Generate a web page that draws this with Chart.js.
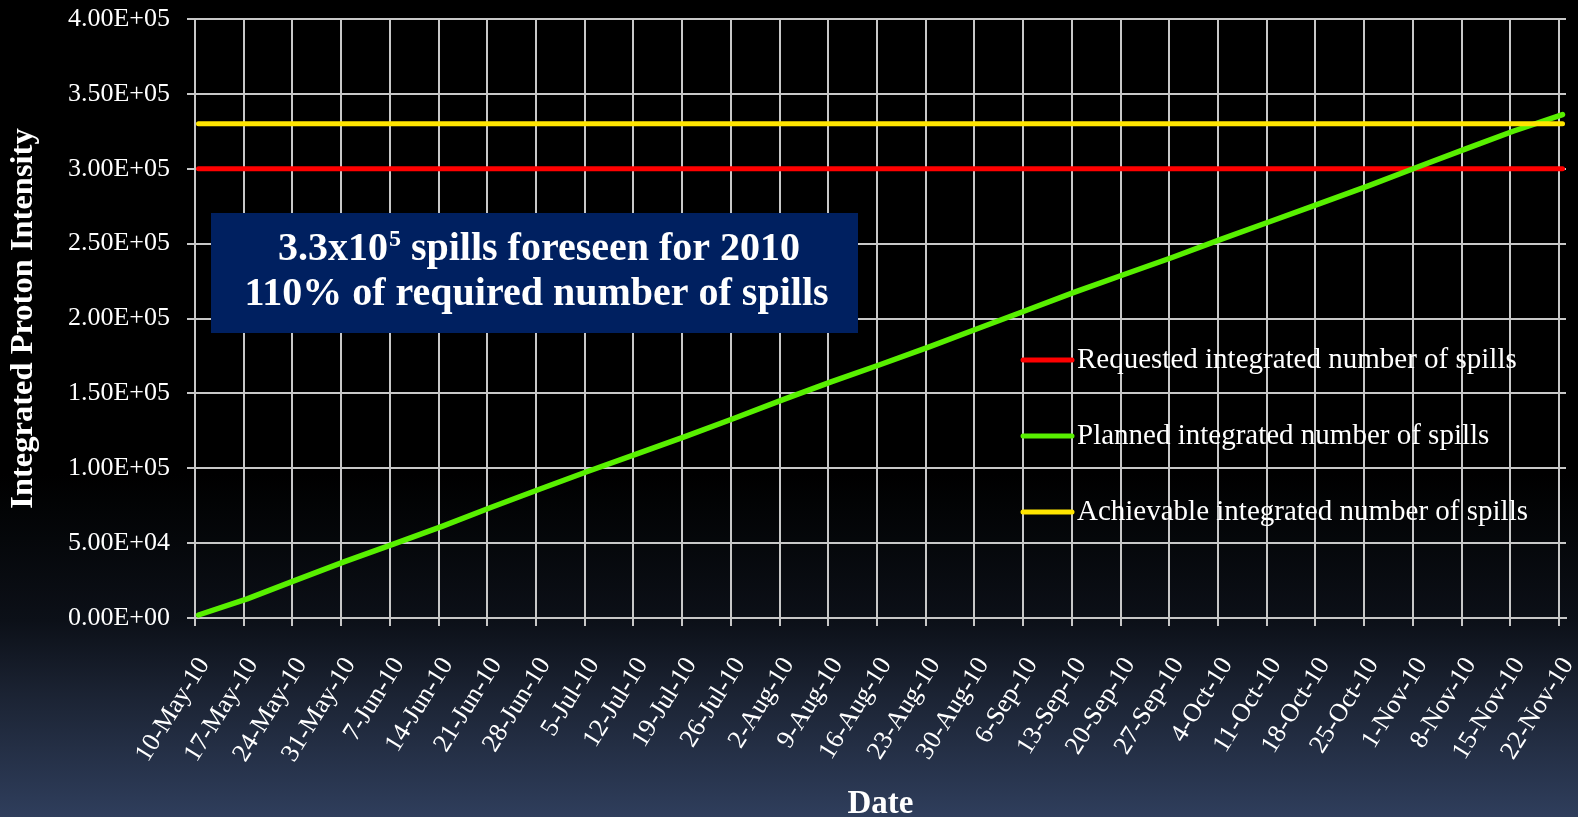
<!DOCTYPE html>
<html>
<head>
<meta charset="utf-8">
<title>Integrated Proton Intensity 2010</title>
<script src="https://cdn.jsdelivr.net/npm/chart.js@4/dist/chart.umd.min.js"></script>
<style>
  html, body {
    margin: 0;
    padding: 0;
    width: 1578px;
    height: 817px;
    overflow: hidden;
    background: linear-gradient(to bottom,
      #000000 0%, #000000 58%, #05070a 66%, #0c1018 76%, #1b2333 85%, #2f3e5c 100%);
  }
  canvas { display: block; }
</style>
</head>
<body>
<canvas id="chart" width="1578" height="817"></canvas>
<script>
// Weekly date labels on the x axis (Mondays, 2010)
const weekLabels = [
  '10-May-10', '17-May-10', '24-May-10', '31-May-10', '7-Jun-10', '14-Jun-10',
  '21-Jun-10', '28-Jun-10', '5-Jul-10', '12-Jul-10', '19-Jul-10', '26-Jul-10',
  '2-Aug-10', '9-Aug-10', '16-Aug-10', '23-Aug-10', '30-Aug-10', '6-Sep-10',
  '13-Sep-10', '20-Sep-10', '27-Sep-10', '4-Oct-10', '11-Oct-10', '18-Oct-10',
  '25-Oct-10', '1-Nov-10', '8-Nov-10', '15-Nov-10', '22-Nov-10'
];

// Day number (0 = 10-May-10) of each planned-curve sample
const plannedDays = [
  0, 7, 14, 21, 28, 35, 42, 49, 56, 63, 70, 77, 84, 91, 98,
  105, 112, 119, 126, 133, 140, 147, 154, 161, 168, 175, 182, 189, 196
];

// Planned integrated number of spills
const plannedSpills = [
  2000, 12800, 25300, 37600, 49300, 61200, 73800, 86000, 98000, 109600,
  121300, 133400, 145800, 157800, 169300, 181100, 193300, 205500, 217800, 229400,
  240900, 253000, 264800, 276600, 288400, 300800, 313100, 325200, 336200
];

// Flat targets
const requestedSpills = 300000;
const achievableSpills = 330000;

// Run period in days: 10-May-10 .. 22-Nov-10
const firstDay = 0;
const lastDay = 196;
const axisDays = 197;

const seriesNames = [
  'Requested integrated number of spills',
  'Planned integrated number of spills',
  'Achievable integrated number of spills'
];

const yMax = 400000;
const yStep = 50000;

// Each day is drawn in the middle of its slot
const mid = d => d + 0.5;

const gridColor = '#c8c8c8';
const serif = '"Liberation Serif", "Times New Roman", serif';

function sci(v) {
  const [m, e] = Number(v).toExponential(2).split('e');
  const sign = e[0] === '-' ? '-' : '+';
  const digits = e.replace(/[+-]/, '').padStart(2, '0');
  return m + 'E' + sign + digits;
}

// Boxed note in the upper-left of the plot
const notePlugin = {
  id: 'note',
  beforeDatasetsDraw(chart) {
    const { ctx, chartArea: a } = chart;
    const left = a.left + 16, top = a.top + 194, w = 647, h = 120;
    ctx.save();
    ctx.fillStyle = '#002060';
    ctx.fillRect(left, top, w, h);
    ctx.fillStyle = '#ffffff';
    ctx.textBaseline = 'alphabetic';
    const cx = left + w / 2 + 4;
    const big = 'bold 40px ' + serif;
    const small = 'bold 24px ' + serif;
    // line 1 with superscript exponent
    const partA = '3.3x10', sup = '5', partB = ' spills foreseen for 2010';
    ctx.font = big;
    const wA = ctx.measureText(partA).width;
    const wB = ctx.measureText(partB).width;
    ctx.font = small;
    const wS = ctx.measureText(sup).width;
    let x = cx - (wA + wS + wB) / 2;
    const b1 = top + 47;
    ctx.textAlign = 'left';
    ctx.font = big;
    ctx.fillText(partA, x, b1);
    x += wA;
    ctx.font = small;
    ctx.fillText(sup, x + 1, b1 - 14);
    x += wS + 1;
    ctx.font = big;
    ctx.fillText(partB, x, b1);
    // line 2
    ctx.textAlign = 'center';
    ctx.fillText('110% of required number of spills', cx - 2, top + 92);
    ctx.restore();
  }
};

// Legend drawn inside the plot, over the grid
const sideLegend = {
  id: 'sideLegend',
  afterDraw(chart) {
    const { ctx, chartArea: a } = chart;
    const x0 = a.left + 828, x1 = a.left + 877;
    const rows = [a.top + 341, a.top + 417, a.top + 493];
    ctx.save();
    chart.data.datasets.forEach((ds, i) => {
      const y = rows[i];
      ctx.strokeStyle = ds.borderColor;
      ctx.lineWidth = 5;
      ctx.lineCap = 'round';
      ctx.beginPath();
      ctx.moveTo(x0, y);
      ctx.lineTo(x1, y);
      ctx.stroke();
      ctx.fillStyle = '#ffffff';
      ctx.font = '29px ' + serif;
      ctx.textAlign = 'left';
      ctx.textBaseline = 'middle';
      ctx.fillText(ds.label, x1 + 5, y);
    });
    ctx.restore();
  }
};

new Chart(document.getElementById('chart'), {
  type: 'line',
  data: {
    datasets: [
      {
        label: seriesNames[0],
        data: [{ x: mid(firstDay), y: requestedSpills }, { x: mid(lastDay), y: requestedSpills }],
        borderColor: '#ff0000',
        borderWidth: 5,
        order: 3
      },
      {
        label: seriesNames[1],
        data: plannedDays.map((d, i) => ({ x: mid(d), y: plannedSpills[i] })),
        borderColor: '#58f000',
        borderWidth: 5.5,
        order: 2
      },
      {
        label: seriesNames[2],
        data: [{ x: mid(firstDay), y: achievableSpills }, { x: mid(lastDay), y: achievableSpills }],
        borderColor: '#ffe500',
        borderWidth: 5,
        order: 1
      }
    ]
  },
  options: {
    responsive: false,
    animation: false,
    devicePixelRatio: 1,
    layout: { padding: { top: 19, right: 12, left: 0, bottom: 0 } },
    elements: {
      point: { radius: 0, hoverRadius: 0 },
      line: { tension: 0, borderCapStyle: 'round', borderJoinStyle: 'round', fill: false }
    },
    plugins: {
      legend: { display: false },
      tooltip: { enabled: false }
    },
    scales: {
      x: {
        type: 'linear',
        min: 0,
        max: axisDays,
        afterBuildTicks(scale) {
          scale.ticks = weekLabels.map((_, i) => ({ value: i * 7 }));
        },
        afterFit(scale) {
          scale.height = 199;
          scale.paddingLeft = 0;
          scale.paddingRight = 0;
        },
        grid: { color: gridColor, lineWidth: 2, drawTicks: true, tickLength: 8, tickColor: gridColor },
        border: { display: true, color: gridColor, width: 2 },
        ticks: {
          autoSkip: false,
          minRotation: 58,
          maxRotation: 58,
          padding: 26,
          labelOffset: 9,
          color: '#ffffff',
          font: { family: serif, size: 26 },
          callback: (v, i) => weekLabels[i]
        },
        title: {
          display: true,
          text: 'Date',
          color: '#ffffff',
          font: { family: serif, size: 33, weight: 'bold', lineHeight: 0.75 },
          padding: { top: 0, bottom: 0 }
        }
      },
      y: {
        min: 0,
        max: yMax,
        afterFit(scale) {
          scale.width = 195;
          scale.paddingTop = 0;
          scale.paddingBottom = 0;
        },
        grid: { color: gridColor, lineWidth: 2, drawTicks: true, tickLength: 8, tickColor: gridColor },
        border: { display: true, color: gridColor, width: 2 },
        ticks: {
          stepSize: yStep,
          padding: 17,
          color: '#ffffff',
          font: { family: serif, size: 26 },
          callback: v => sci(v)
        },
        title: {
          display: true,
          text: 'Integrated Proton Intensity',
          color: '#ffffff',
          font: { family: serif, size: 32.5, weight: 'bold', lineHeight: 1 },
          padding: { top: 7, bottom: 0 }
        }
      }
    }
  },
  plugins: [notePlugin, sideLegend]
});
</script>
</body>
</html>
